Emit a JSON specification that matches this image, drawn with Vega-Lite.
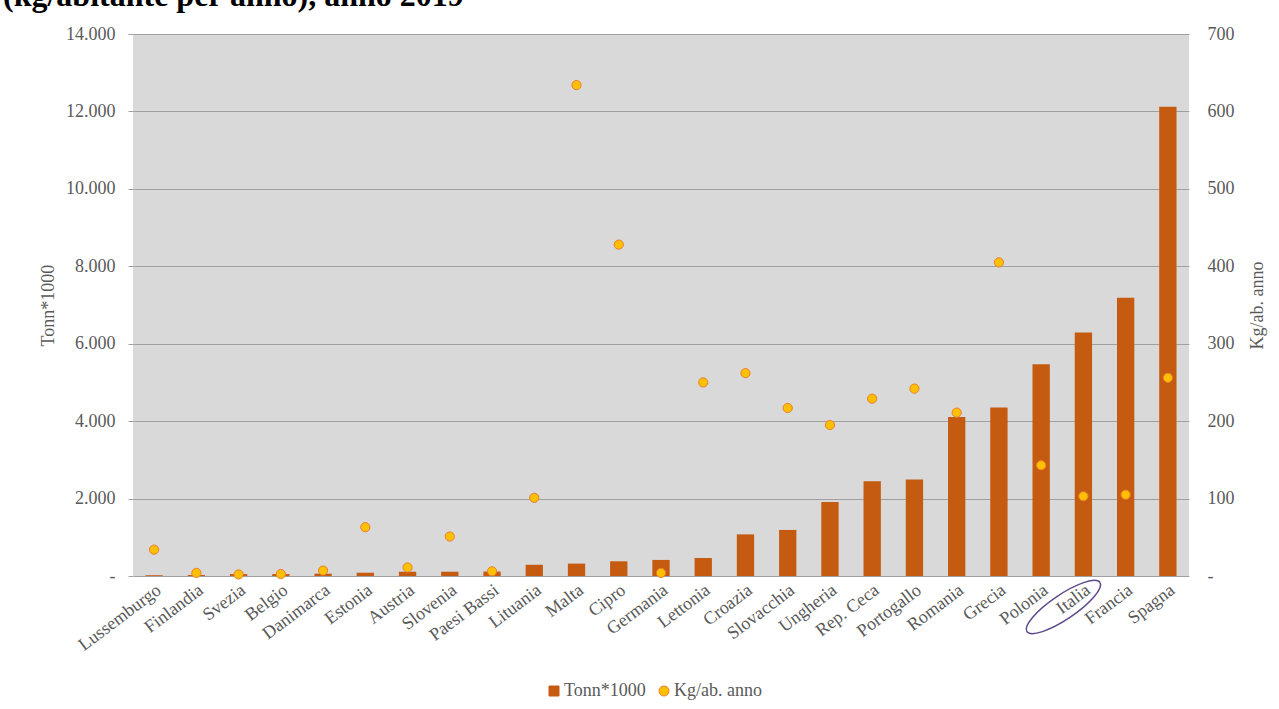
{
  "$schema": "https://vega.github.io/schema/vega-lite/v6.json",
  "width": 1056,
  "height": 542,
  "autosize": {"type": "none"},
  "padding": {"left": 133, "top": 34, "right": 90, "bottom": 133},
  "background": "#ffffff",
  "title": {
    "text": "(kg/abitante per anno), anno 2019",
    "anchor": "start",
    "frame": "group",
    "baseline": "alphabetic",
    "offset": 8,
    "dy": 21,
    "dx": -130,
    "font": "Liberation Serif",
    "fontSize": 32,
    "fontWeight": "bold",
    "color": "#000000"
  },
  "data": {
    "values": [
      {"Paese": "Lussemburgo", "Tonn": 20, "Kg": 34},
      {"Paese": "Finlandia", "Tonn": 25, "Kg": 4},
      {"Paese": "Svezia", "Tonn": 50, "Kg": 2},
      {"Paese": "Belgio", "Tonn": 50, "Kg": 2.5},
      {"Paese": "Danimarca", "Tonn": 60, "Kg": 7},
      {"Paese": "Estonia", "Tonn": 85, "Kg": 63},
      {"Paese": "Austria", "Tonn": 110, "Kg": 11},
      {"Paese": "Slovenia", "Tonn": 110, "Kg": 51},
      {"Paese": "Paesi Bassi", "Tonn": 115, "Kg": 6},
      {"Paese": "Lituania", "Tonn": 290, "Kg": 101},
      {"Paese": "Malta", "Tonn": 320, "Kg": 634},
      {"Paese": "Cipro", "Tonn": 380, "Kg": 428},
      {"Paese": "Germania", "Tonn": 415, "Kg": 4},
      {"Paese": "Lettonia", "Tonn": 465, "Kg": 250},
      {"Paese": "Croazia", "Tonn": 1075, "Kg": 262},
      {"Paese": "Slovacchia", "Tonn": 1190, "Kg": 217},
      {"Paese": "Ungheria", "Tonn": 1910, "Kg": 195},
      {"Paese": "Rep. Ceca", "Tonn": 2450, "Kg": 229},
      {"Paese": "Portogallo", "Tonn": 2495, "Kg": 242},
      {"Paese": "Romania", "Tonn": 4110, "Kg": 211},
      {"Paese": "Grecia", "Tonn": 4355, "Kg": 405},
      {"Paese": "Polonia", "Tonn": 5470, "Kg": 143},
      {"Paese": "Italia", "Tonn": 6290, "Kg": 103},
      {"Paese": "Francia", "Tonn": 7190, "Kg": 105},
      {"Paese": "Spagna", "Tonn": 12120, "Kg": 256}
    ]
  },
  "encoding": {
    "x": {
      "field": "Paese",
      "type": "nominal",
      "sort": null,
      "scale": {"paddingInner": 0.59, "paddingOuter": 0.295},
      "axis": {
        "title": null,
        "labelAngle": -37,
        "labelAlign": "right",
        "labelBaseline": "middle",
        "labelFont": "Liberation Serif",
        "labelFontSize": 18,
        "labelColor": "#595959",
        "ticks": false,
        "domain": false,
        "grid": false,
        "labelPadding": 12,
        "labelOffset": 5,
        "labelOverlap": false,
        "labelLimit": 300
      }
    }
  },
  "layer": [
    {
      "layer": [
        {
          "mark": {"type": "bar", "color": "#c55a11"},
          "encoding": {
            "y": {
              "field": "Tonn",
              "type": "quantitative",
              "title": "Tonn*1000",
              "scale": {"domain": [0, 14000], "nice": false},
              "axis": {
                "values": [0, 2000, 4000, 6000, 8000, 10000, 12000, 14000],
                "labelExpr": "datum.value === 0 ? '-\u00a0\u00a0' : replace(format(datum.value, ','), ',', '.')",
                "labelFont": "Liberation Serif",
                "labelFontSize": 18,
                "labelColor": "#595959",
                "tickSize": 5,
                "tickColor": "#a0a0a0",
                "labelPadding": 13,
                "domain": false,
                "grid": true,
                "gridColor": "#a0a0a0",
                "gridWidth": 1,
                "titleFont": "Liberation Serif",
                "titleFontSize": 18,
                "titleColor": "#595959",
                "titleFontWeight": "normal",
                "titlePadding": 8
              }
            },
            "color": {
              "datum": "Tonn*1000",
              "type": "nominal",
              "scale": {"domain": ["Tonn*1000", "Kg/ab. anno"], "range": ["#c55a11", "#ffc000"]},
              "legend": {
                "title": null,
                "orient": "none",
                "legendX": 412,
                "legendY": 648,
                "direction": "horizontal",
                "labelFont": "Liberation Serif",
                "labelFontSize": 18,
                "labelColor": "#595959",
                "symbolSize": 100,
                "labelOffset": 1,
                "columnPadding": 9,
                "encode": {
                  "symbols": {
                    "update": {
                      "shape": {"signal": "datum.value === 'Tonn*1000' ? 'square' : 'circle'"},
                      "stroke": {"signal": "datum.value === 'Tonn*1000' ? '#c55a11' : '#ed7d31'"},
                      "strokeWidth": {"value": 1},
                      "opacity": {"value": 1}
                    }
                  }
                }
              }
            }
          }
        },
        {
          "mark": {
            "type": "point",
            "shape": "M-1,0A1,0.28 0 1,1 1,0A1,0.28 0 1,1 -1,0Z",
            "size": 7744,
            "angle": -34,
            "filled": false,
            "stroke": "#5f4b8b",
            "strokeWidth": 1.5,
            "xOffset": -20,
            "yOffset": 31,
            "clip": false
          },
          "encoding": {
            "y": {"datum": 0, "type": "quantitative", "title": "Tonn*1000"},
            "opacity": {"condition": {"test": "datum.Paese === 'Italia'", "value": 1}, "value": 0}
          }
        }
      ]
    },
    {
      "mark": {"type": "point", "filled": true, "size": 85, "stroke": "#ed7d31", "strokeWidth": 1, "opacity": 1},
      "encoding": {
        "y": {
          "field": "Kg",
          "type": "quantitative",
          "title": "Kg/ab. anno",
          "scale": {"domain": [0, 700], "nice": false},
          "axis": {
            "orient": "right",
            "values": [0, 100, 200, 300, 400, 500, 600, 700],
            "labelExpr": "datum.value === 0 ? '-' : datum.label",
            "labelFont": "Liberation Serif",
            "labelFontSize": 18,
            "labelColor": "#595959",
            "ticks": false,
            "domain": false,
            "grid": false,
            "labelPadding": 18,
            "titleFont": "Liberation Serif",
            "titleFontSize": 18,
            "titleColor": "#595959",
            "titleFontWeight": "normal",
            "titleAngle": 270,
            "titleBaseline": "top",
            "titlePadding": 14
          }
        },
        "color": {"datum": "Kg/ab. anno", "type": "nominal"}
      }
    }
  ],
  "resolve": {"scale": {"y": "independent"}},
  "config": {
    "view": {"fill": "#d9d9d9", "stroke": null}
  }
}
